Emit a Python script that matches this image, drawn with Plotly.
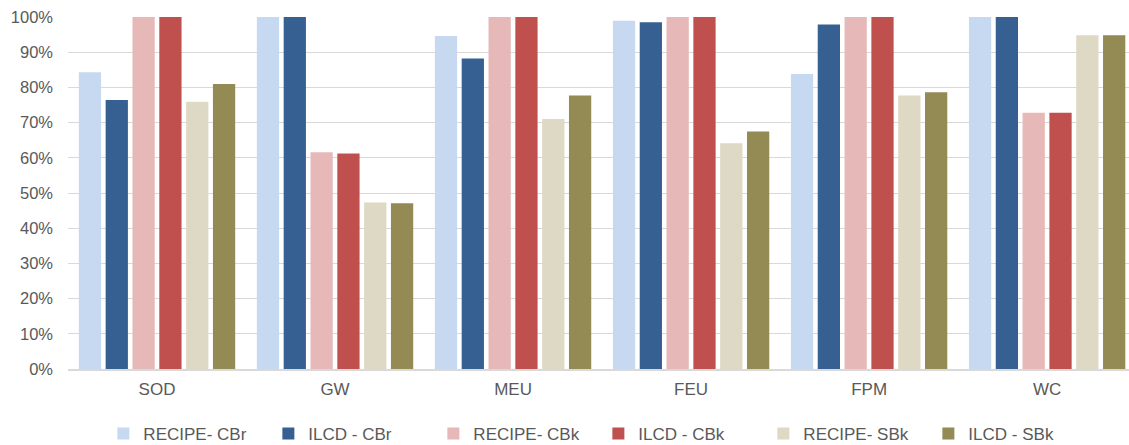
import plotly.graph_objects as go

categories = ["SOD", "GW", "MEU", "FEU", "FPM", "WC"]

recipe_cbr = [0.843, 1.00, 0.946, 0.989, 0.838, 1.00]
ilcd_cbr = [0.764, 1.00, 0.882, 0.985, 0.979, 1.00]
recipe_cbk = [1.00, 0.616, 1.00, 1.00, 1.00, 0.728]
ilcd_cbk = [1.00, 0.612, 1.00, 1.00, 1.00, 0.728]
recipe_sbk = [0.759, 0.473, 0.710, 0.641, 0.777, 0.948]
ilcd_sbk = [0.810, 0.471, 0.777, 0.675, 0.786, 0.948]

series_names = ["RECIPE- CBr", "ILCD - CBr", "RECIPE- CBk",
                "ILCD - CBk", "RECIPE- SBk", "ILCD - SBk"]
series_values = [recipe_cbr, ilcd_cbr, recipe_cbk, ilcd_cbk, recipe_sbk, ilcd_sbk]
series_colors = ["#c6d9f1", "#366092", "#e6b9b8", "#c0504d", "#ddd9c4", "#948a54"]

y_ticks = [i / 10 for i in range(11)]
y_tick_text = [f"{i * 10}%" for i in range(11)]

text_color = "#595959"
font_family = "Liberation Sans, Arial, sans-serif"

fig = go.Figure()
for name, vals, color in zip(series_names, series_values, series_colors):
    fig.add_trace(go.Bar(
        x=categories,
        y=vals,
        name=name,
        marker=dict(color=color, line=dict(width=0)),
    ))

fig.update_layout(
    width=1129,
    height=445,
    margin=dict(l=68, r=0, t=17, b=76),
    paper_bgcolor="white",
    plot_bgcolor="white",
    barmode="group",
    bargap=0.096,
    bargroupgap=0.17,
    font=dict(family=font_family, size=17, color=text_color),
    showlegend=True,
    legend=dict(
        orientation="h",
        xref="container",
        yref="container",
        x=0.53,
        xanchor="center",
        y=0.025,
        yanchor="middle",
        itemwidth=30,
        entrywidth=120,
        font=dict(size=17, color=text_color),
        traceorder="normal",
    ),
    xaxis=dict(
        range=[-0.5, 5.46],
        showgrid=False,
        showline=True,
        linecolor="#d9d9d9",
        linewidth=1.5,
        ticks="",
        tickfont=dict(size=17, color=text_color),
        ticklabelstandoff=4,
    ),
    yaxis=dict(
        range=[0, 1],
        tickvals=y_ticks,
        ticktext=y_tick_text,
        showgrid=True,
        gridcolor="#d9d9d9",
        gridwidth=1.3,
        zeroline=False,
        showline=False,
        ticks="",
        tickfont=dict(size=16.5, color=text_color),
        ticklabelstandoff=14,
    ),
)

fig.write_html("out.html")
